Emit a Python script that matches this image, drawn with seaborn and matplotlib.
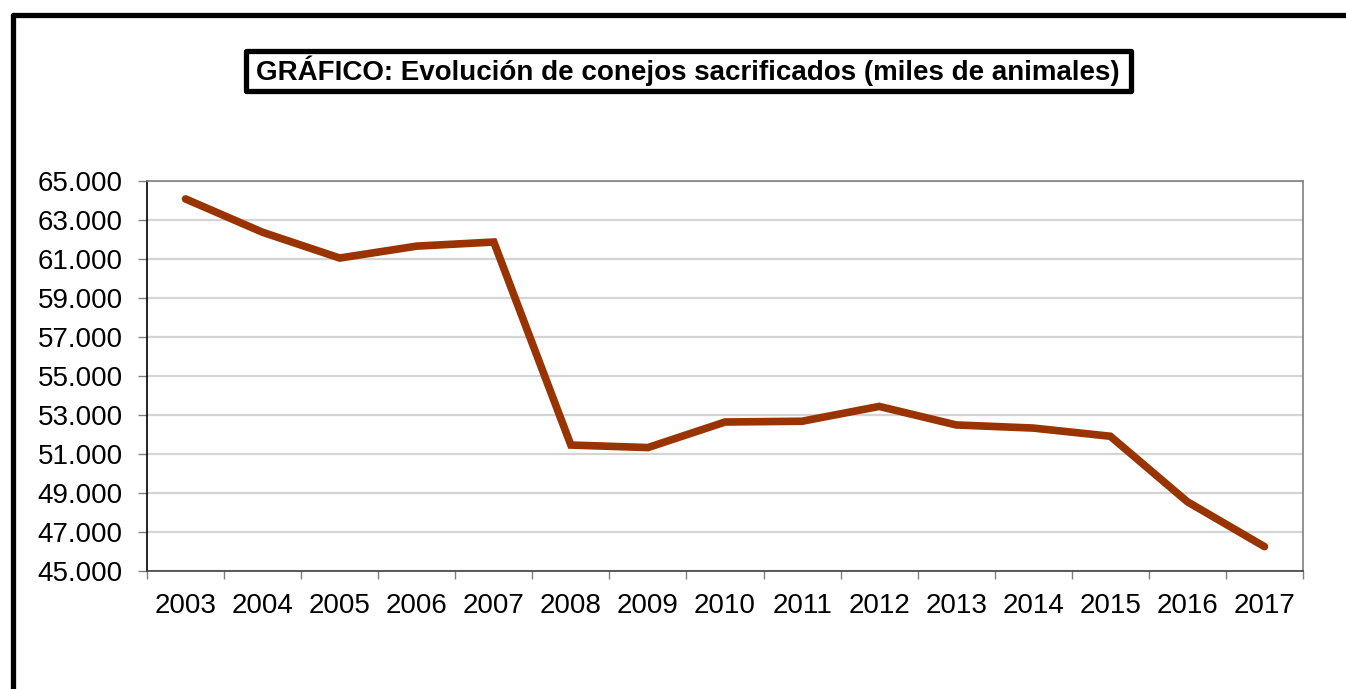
import matplotlib
matplotlib.use("Agg")
import matplotlib.pyplot as plt
import matplotlib.ticker as mticker
from matplotlib.lines import Line2D
from matplotlib.patches import Rectangle
import numpy as np
import pandas as pd
import seaborn as sns

years = ["2003", "2004", "2005", "2006", "2007", "2008", "2009", "2010",
         "2011", "2012", "2013", "2014", "2015", "2016", "2017"]
conejos = [64080, 62370, 61050, 61660, 61870, 51460, 51330, 52640,
           52680, 53440, 52490, 52330, 51910, 48550, 46250]
y_ticks = list(range(45000, 65001, 2000))
title = "GRÁFICO: Evolución de conejos sacrificados (miles de animales)"

df = pd.DataFrame({"year": years, "value": conejos})

sns.set_theme(style="white")
plt.rcParams["font.family"] = ["Liberation Sans", "DejaVu Sans"]

W, H = 1346, 689
fig = plt.figure(figsize=(W / 100, H / 100), dpi=100)
ax = fig.add_axes([147 / W, 1 - 571 / H, (1303 - 147) / W, (571 - 181) / H])

sns.lineplot(data=df, x="year", y="value", ax=ax, color="#993300",
             linewidth=5.5, sort=False, solid_joinstyle="miter",
             solid_capstyle="round")

ax.set_xlim(-0.5, len(years) - 0.5)
ax.set_ylim(y_ticks[0], y_ticks[-1])
ax.set_yticks(y_ticks)
ax.yaxis.set_major_formatter(
    mticker.FuncFormatter(lambda v, p: f"{int(v):,}".replace(",", ".")))
ax.set_xticks(range(len(years)))
ax.set_xticklabels(years)
ax.set_xticks(np.arange(-0.5, len(years), 1.0), minor=True)
ax.set_xlabel("")
ax.set_ylabel("")

ax.grid(axis="y", color="#d4d4d4", linewidth=1.6)
ax.set_axisbelow(True)

ax.tick_params(axis="y", which="major", direction="out", length=6.5,
               width=1, color="#808080", labelsize=20, pad=11,
               labelcolor="black", left=True)
ax.tick_params(axis="x", which="major", length=0, labelsize=20,
               pad=16, labelcolor="black", bottom=True)
ax.tick_params(axis="x", which="minor", direction="out", length=6,
               width=1, color="#808080", bottom=True)

for side, col in [("left", "black"), ("bottom", "#404040"),
                  ("top", "#808080"), ("right", "#808080")]:
    ax.spines[side].set_visible(True)
    ax.spines[side].set_color(col)
    ax.spines[side].set_linewidth(1.2)

# outer frame (left and top edges, running off the figure)
fig.add_artist(Line2D([13 / W, 13 / W], [0, 1 - 14.5 / H],
                      transform=fig.transFigure, color="black",
                      linewidth=3.8, solid_joinstyle="round"))
fig.add_artist(Line2D([13 / W, 1.0], [1 - 14.5 / H, 1 - 14.5 / H],
                      transform=fig.transFigure, color="black",
                      linewidth=3.8, solid_capstyle="round"))

# boxed title
fig.add_artist(Rectangle((245.5 / W, 1 - 90.5 / H), (1131 - 245.5) / W,
                         (90.5 - 51) / H, transform=fig.transFigure,
                         facecolor="white", edgecolor="black",
                         linewidth=3.8, joinstyle="round"))
fig.text(688 / W, 1 - 71 / H, title, ha="center", va="center",
         fontsize=20, fontweight="bold", color="black")

fig.savefig("out.png", dpi=100, facecolor="white")
